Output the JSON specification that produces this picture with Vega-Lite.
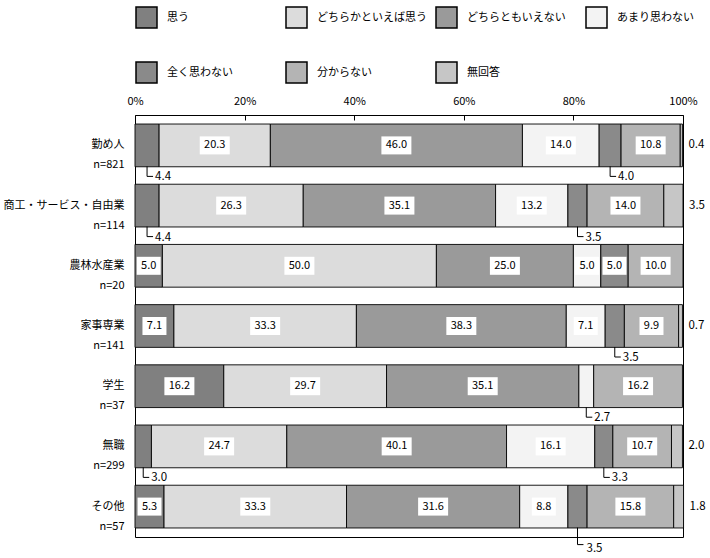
{
  "$schema": "https://vega.github.io/schema/vega-lite/v6.json",
  "width": 548,
  "height": 422,
  "autosize": {"type": "none"},
  "padding": {"left": 135, "top": 115, "right": 27, "bottom": 21},
  "config": {
    "view": {"stroke": "black", "strokeWidth": 1},
    "font": "Noto Sans CJK JP"
  },
  "data": {
    "values": [
      {"group": "勤め人|n=821", "answer": "思う", "pct": 4.4, "order": 1},
      {"group": "勤め人|n=821", "answer": "どちらかといえば思う", "pct": 20.3, "order": 2},
      {"group": "勤め人|n=821", "answer": "どちらともいえない", "pct": 46.0, "order": 3},
      {"group": "勤め人|n=821", "answer": "あまり思わない", "pct": 14.0, "order": 4},
      {"group": "勤め人|n=821", "answer": "全く思わない", "pct": 4.0, "order": 5},
      {"group": "勤め人|n=821", "answer": "分からない", "pct": 10.8, "order": 6},
      {"group": "勤め人|n=821", "answer": "無回答", "pct": 0.4, "order": 7},
      {"group": "商工・サービス・自由業|n=114", "answer": "思う", "pct": 4.4, "order": 1},
      {"group": "商工・サービス・自由業|n=114", "answer": "どちらかといえば思う", "pct": 26.3, "order": 2},
      {"group": "商工・サービス・自由業|n=114", "answer": "どちらともいえない", "pct": 35.1, "order": 3},
      {"group": "商工・サービス・自由業|n=114", "answer": "あまり思わない", "pct": 13.2, "order": 4},
      {"group": "商工・サービス・自由業|n=114", "answer": "全く思わない", "pct": 3.5, "order": 5},
      {"group": "商工・サービス・自由業|n=114", "answer": "分からない", "pct": 14.0, "order": 6},
      {"group": "商工・サービス・自由業|n=114", "answer": "無回答", "pct": 3.5, "order": 7},
      {"group": "農林水産業|n=20", "answer": "思う", "pct": 5.0, "order": 1},
      {"group": "農林水産業|n=20", "answer": "どちらかといえば思う", "pct": 50.0, "order": 2},
      {"group": "農林水産業|n=20", "answer": "どちらともいえない", "pct": 25.0, "order": 3},
      {"group": "農林水産業|n=20", "answer": "あまり思わない", "pct": 5.0, "order": 4},
      {"group": "農林水産業|n=20", "answer": "全く思わない", "pct": 5.0, "order": 5},
      {"group": "農林水産業|n=20", "answer": "分からない", "pct": 10.0, "order": 6},
      {"group": "家事専業|n=141", "answer": "思う", "pct": 7.1, "order": 1},
      {"group": "家事専業|n=141", "answer": "どちらかといえば思う", "pct": 33.3, "order": 2},
      {"group": "家事専業|n=141", "answer": "どちらともいえない", "pct": 38.3, "order": 3},
      {"group": "家事専業|n=141", "answer": "あまり思わない", "pct": 7.1, "order": 4},
      {"group": "家事専業|n=141", "answer": "全く思わない", "pct": 3.5, "order": 5},
      {"group": "家事専業|n=141", "answer": "分からない", "pct": 9.9, "order": 6},
      {"group": "家事専業|n=141", "answer": "無回答", "pct": 0.7, "order": 7},
      {"group": "学生|n=37", "answer": "思う", "pct": 16.2, "order": 1},
      {"group": "学生|n=37", "answer": "どちらかといえば思う", "pct": 29.7, "order": 2},
      {"group": "学生|n=37", "answer": "どちらともいえない", "pct": 35.1, "order": 3},
      {"group": "学生|n=37", "answer": "あまり思わない", "pct": 2.7, "order": 4},
      {"group": "学生|n=37", "answer": "分からない", "pct": 16.2, "order": 6},
      {"group": "無職|n=299", "answer": "思う", "pct": 3.0, "order": 1},
      {"group": "無職|n=299", "answer": "どちらかといえば思う", "pct": 24.7, "order": 2},
      {"group": "無職|n=299", "answer": "どちらともいえない", "pct": 40.1, "order": 3},
      {"group": "無職|n=299", "answer": "あまり思わない", "pct": 16.1, "order": 4},
      {"group": "無職|n=299", "answer": "全く思わない", "pct": 3.3, "order": 5},
      {"group": "無職|n=299", "answer": "分からない", "pct": 10.7, "order": 6},
      {"group": "無職|n=299", "answer": "無回答", "pct": 2.0, "order": 7},
      {"group": "その他|n=57", "answer": "思う", "pct": 5.3, "order": 1},
      {"group": "その他|n=57", "answer": "どちらかといえば思う", "pct": 33.3, "order": 2},
      {"group": "その他|n=57", "answer": "どちらともいえない", "pct": 31.6, "order": 3},
      {"group": "その他|n=57", "answer": "あまり思わない", "pct": 8.8, "order": 4},
      {"group": "その他|n=57", "answer": "全く思わない", "pct": 3.5, "order": 5},
      {"group": "その他|n=57", "answer": "分からない", "pct": 15.8, "order": 6},
      {"group": "その他|n=57", "answer": "無回答", "pct": 1.8, "order": 7}
    ]
  },
  "transform": [
    {"stack": "pct", "groupby": ["group"], "sort": [{"field": "order", "order": "ascending"}], "as": ["p0", "p1"]},
    {"calculate": "(datum.p0 + datum.p1) / 2", "as": "mid"}
  ],
  "encoding": {
    "y": {
      "field": "group",
      "type": "nominal",
      "sort": ["勤め人|n=821", "商工・サービス・自由業|n=114", "農林水産業|n=20", "家事専業|n=141", "学生|n=37", "無職|n=299", "その他|n=57"],
      "scale": {"paddingInner": 0.29, "paddingOuter": 0.15},
      "axis": {
        "title": null,
        "ticks": false,
        "domain": false,
        "labelExpr": "split(datum.label, '|')",
        "labelFontSize": 11,
        "labelFontWeight": "normal",
        "labelLineHeight": 20,
        "labelPadding": 11,
        "labelLimit": 140,
        "labelColor": "#000",
        "labelFont": "Noto Sans CJK JP"
      }
    }
  },
  "layer": [
    {
      "mark": {"type": "bar", "stroke": "black", "strokeWidth": 0.9},
      "encoding": {
        "x": {
          "field": "p0",
          "type": "quantitative",
          "title": null,
          "scale": {"domain": [0, 100], "nice": false},
          "axis": {
            "orient": "top",
            "values": [0, 20, 40, 60, 80, 100],
            "labelExpr": "datum.value + '%'",
            "grid": false,
            "domain": false,
            "tickSize": -5,
            "tickColor": "#000",
            "labelPadding": 14,
            "labelFontSize": 11,
            "labelColor": "#000",
            "labelFlush": false
          }
        },
        "x2": {"field": "p1"},
        "color": {
          "field": "answer",
          "type": "nominal",
          "scale": {
            "domain": ["思う", "どちらかといえば思う", "どちらともいえない", "あまり思わない", "全く思わない", "分からない", "無回答"],
            "range": ["#808080", "#dcdcdc", "#9a9a9a", "#f3f3f3", "#8a8a8a", "#b4b4b4", "#c6c6c6"]
          },
          "legend": {
            "title": null,
            "orient": "none",
            "legendX": 0,
            "legendY": -109,
            "direction": "horizontal",
            "columns": 4,
            "gridAlign": "all",
            "symbolType": "square",
            "symbolSize": 441,
            "symbolStrokeColor": "black",
            "symbolStrokeWidth": 1.5,
            "labelOffset": 9,
            "labelFontSize": 11,
            "labelColor": "#000",
            "labelLimit": 200,
            "columnPadding": 6,
            "rowPadding": 28
          }
        }
      }
    },
    {
      "transform": [{"filter": "datum.pct >= 10 && datum.answer != '無回答'"}],
      "mark": {"type": "point", "filled": true, "fill": "white", "opacity": 1, "strokeWidth": 0, "shape": "M-1,-0.6 H1 V0.6 H-1 Z", "size": 900},
      "encoding": {"x": {"field": "mid", "type": "quantitative", "title": null}}
    },
    {
      "transform": [{"filter": "datum.pct >= 5 && datum.pct < 10 && datum.answer != '無回答'"}],
      "mark": {"type": "point", "filled": true, "fill": "white", "opacity": 1, "strokeWidth": 0, "shape": "M-1,-0.75 H1 V0.75 H-1 Z", "size": 576},
      "encoding": {"x": {"field": "mid", "type": "quantitative", "title": null}}
    },
    {
      "transform": [{"filter": "datum.pct >= 5 && datum.answer != '無回答'"}],
      "mark": {"type": "text", "fontSize": 11, "color": "#000", "align": "center", "baseline": "middle"},
      "encoding": {
        "x": {"field": "mid", "type": "quantitative", "title": null},
        "text": {"field": "pct", "type": "quantitative", "format": ".1f"}
      }
    },
    {
      "transform": [{"filter": "datum.pct < 5 && datum.answer != '無回答' && datum.group != 'その他|n=57'"}],
      "mark": {"type": "point", "filled": false, "stroke": "black", "strokeWidth": 1, "opacity": 1, "shape": "M0,-1 L0,0 L0.6,0", "size": 400, "yOffset": 31},
      "encoding": {"x": {"field": "mid", "type": "quantitative", "title": null}}
    },
    {
      "transform": [{"filter": "datum.pct < 5 && datum.answer != '無回答' && datum.group != 'その他|n=57'"}],
      "mark": {"type": "text", "fontSize": 11.5, "color": "#000", "align": "left", "baseline": "middle", "dx": 8, "dy": 32},
      "encoding": {
        "x": {"field": "mid", "type": "quantitative", "title": null},
        "text": {"field": "pct", "type": "quantitative", "format": ".1f"}
      }
    },
    {
      "transform": [{"filter": "datum.pct < 5 && datum.answer != '無回答' && datum.group == 'その他|n=57'"}],
      "mark": {"type": "point", "filled": false, "stroke": "black", "strokeWidth": 1, "opacity": 1, "shape": "M0,-1 L0,0 L0.35,0", "size": 1156, "yOffset": 38},
      "encoding": {"x": {"field": "mid", "type": "quantitative", "title": null}}
    },
    {
      "transform": [{"filter": "datum.pct < 5 && datum.answer != '無回答' && datum.group == 'その他|n=57'"}],
      "mark": {"type": "text", "fontSize": 11.5, "color": "#000", "align": "left", "baseline": "middle", "dx": 9, "dy": 42},
      "encoding": {
        "x": {"field": "mid", "type": "quantitative", "title": null},
        "text": {"field": "pct", "type": "quantitative", "format": ".1f"}
      }
    },
    {
      "transform": [{"filter": "datum.answer == '無回答'"}],
      "mark": {"type": "text", "fontSize": 11.5, "color": "#000", "align": "left", "baseline": "middle", "dx": 6},
      "encoding": {
        "x": {"field": "p1", "type": "quantitative", "title": null},
        "text": {"field": "pct", "type": "quantitative", "format": ".1f"}
      }
    }
  ]
}
